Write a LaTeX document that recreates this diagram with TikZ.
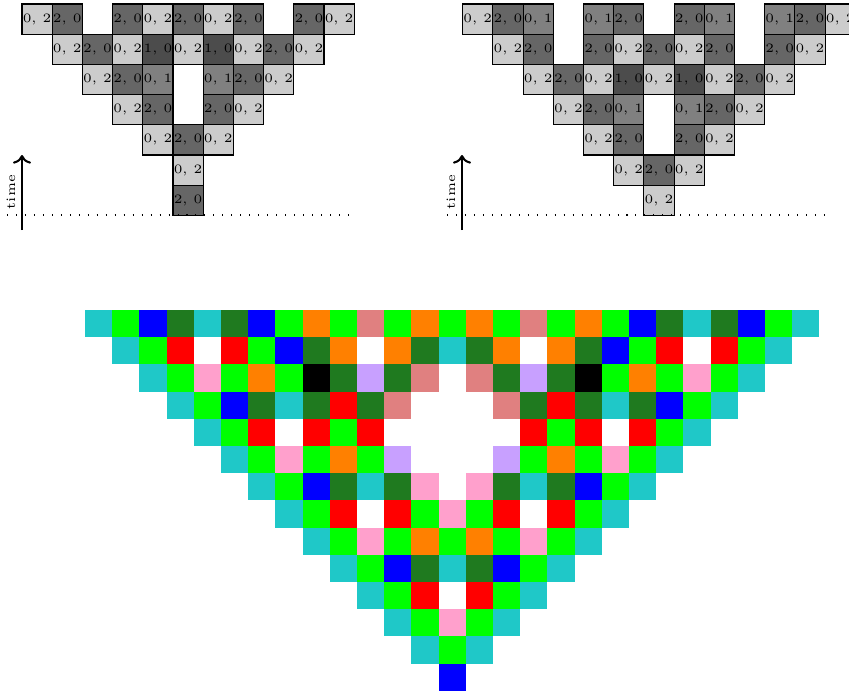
\documentclass[tikz,border=0pt]{standalone}
\usepackage{xcolor}
\usepackage{tikz}
\usetikzlibrary{arrows.meta}
\definecolor{cCy}{HTML}{1FC8C8}
\definecolor{cGr}{HTML}{00FF00}
\definecolor{cBl}{HTML}{0000FF}
\definecolor{cDg}{HTML}{1F7A1F}
\definecolor{cOr}{HTML}{FF8000}
\definecolor{cSa}{HTML}{E08080}
\definecolor{cRd}{HTML}{FF0000}
\definecolor{cPk}{HTML}{FFA0CC}
\definecolor{cLv}{HTML}{C8A0FF}
\definecolor{cBk}{HTML}{000000}
\definecolor{cWh}{HTML}{FFFFFF}

\begin{document}
\begin{tikzpicture}[
    x=0.39pt, y=-0.39pt,
    cell/.style={
        draw=black,
        minimum size=11.78pt,
        inner sep=0pt,
        font=\tiny
    },
    v02/.style={fill=black!20},
    v20/.style={fill=black!60},
    v10/.style={fill=black!70},
    v01/.style={fill=black!50},
    baseline/.style={dash pattern=on 0.4pt off 3.1pt},
    timearrow/.style={->, thick},
    timelabel/.style={rotate=90, font=\tiny}
]
    \useasboundingbox (0,0) rectangle (849,694);

    % left run
    \begin{scope}[shift={(22,4)}]
    \foreach \r/\st/\cells in {
        0/0/{0/2,2/0,0/0,2/0,0/2,2/0,0/2,2/0,0/0,2/0,0/2},
        1/1/{0/2,2/0,0/2,1/0,0/2,1/0,0/2,2/0,0/2},
        2/2/{0/2,2/0,0/1,0/0,0/1,2/0,0/2},
        3/3/{0/2,2/0,0/0,2/0,0/2},
        4/4/{0/2,2/0,0/2},
        5/5/{0/2},
        6/5/{2/0}%
    }{
        \foreach \a/\b [count=\k from \st] in \cells {
            \ifnum\a\b>0
                \node[cell, v\a\b] (L-\r-\k) at (30.2*\k+15.1, 30.2*\r+15.1) {\a, \b};
            \fi
        }
    }
    \end{scope}
    \coordinate (L-lineA) at (7,215);
    \coordinate (L-lineB) at (353,215);
    \draw[baseline] (L-lineA) -- (L-lineB);
    \coordinate (L-foot) at (22,230);
    \coordinate (L-head) at (22,155);
    \draw[timearrow] (L-foot) -- (L-head);
    \node[timelabel] (L-time) at (11,192) {time};

    % right run
    \begin{scope}[shift={(462.7,4)}]
    \foreach \r/\st/\cells in {
        0/0/{0/2,2/0,0/1,0/0,0/1,2/0,0/0,2/0,0/1,0/0,0/1,2/0,0/2},
        1/1/{0/2,2/0,0/0,2/0,0/2,2/0,0/2,2/0,0/0,2/0,0/2},
        2/2/{0/2,2/0,0/2,1/0,0/2,1/0,0/2,2/0,0/2},
        3/3/{0/2,2/0,0/1,0/0,0/1,2/0,0/2},
        4/4/{0/2,2/0,0/0,2/0,0/2},
        5/5/{0/2,2/0,0/2},
        6/6/{0/2}%
    }{
        \foreach \a/\b [count=\k from \st] in \cells {
            \ifnum\a\b>0
                \node[cell, v\a\b] (R-\r-\k) at (30.2*\k+15.1, 30.2*\r+15.1) {\a, \b};
            \fi
        }
    }
    \end{scope}
    \coordinate (R-lineA) at (447,215);
    \coordinate (R-lineB) at (827,215);
    \draw[baseline] (R-lineA) -- (R-lineB);
    \coordinate (R-foot) at (462,230);
    \coordinate (R-head) at (462,155);
    \draw[timearrow] (R-foot) -- (R-head);
    \node[timelabel] (R-time) at (451,192) {time};

    % coloured triangle
    \begin{scope}[shift={(85,310)}]
    \foreach \r/\cells in {
        0/{Cy,Gr,Bl,Dg,Cy,Dg,Bl,Gr,Or,Gr,Sa,Gr,Or,Gr,Or,Gr,Sa,Gr,Or,Gr,Bl,Dg,Cy,Dg,Bl,Gr,Cy},
        1/{Cy,Gr,Rd,Wh,Rd,Gr,Bl,Dg,Or,Wh,Or,Dg,Cy,Dg,Or,Wh,Or,Dg,Bl,Gr,Rd,Wh,Rd,Gr,Cy},
        2/{Cy,Gr,Pk,Gr,Or,Gr,Bk,Dg,Lv,Dg,Sa,Wh,Sa,Dg,Lv,Dg,Bk,Gr,Or,Gr,Pk,Gr,Cy},
        3/{Cy,Gr,Bl,Dg,Cy,Dg,Rd,Dg,Sa,Wh,Wh,Wh,Sa,Dg,Rd,Dg,Cy,Dg,Bl,Gr,Cy},
        4/{Cy,Gr,Rd,Wh,Rd,Gr,Rd,Wh,Wh,Wh,Wh,Wh,Rd,Gr,Rd,Wh,Rd,Gr,Cy},
        5/{Cy,Gr,Pk,Gr,Or,Gr,Lv,Wh,Wh,Wh,Lv,Gr,Or,Gr,Pk,Gr,Cy},
        6/{Cy,Gr,Bl,Dg,Cy,Dg,Pk,Wh,Pk,Dg,Cy,Dg,Bl,Gr,Cy},
        7/{Cy,Gr,Rd,Wh,Rd,Gr,Pk,Gr,Rd,Wh,Rd,Gr,Cy},
        8/{Cy,Gr,Pk,Gr,Or,Gr,Or,Gr,Pk,Gr,Cy},
        9/{Cy,Gr,Bl,Dg,Cy,Dg,Bl,Gr,Cy},
        10/{Cy,Gr,Rd,Wh,Rd,Gr,Cy},
        11/{Cy,Gr,Pk,Gr,Cy},
        12/{Cy,Gr,Cy},
        13/{Bl}%
    }{
        \foreach \col [count=\k from \r] in \cells
            \fill[fill=c\col] (27.2*\k, 27.2*\r) rectangle ++(27.2, 27.2);
    }
    \end{scope}
\end{tikzpicture}
\end{document}
